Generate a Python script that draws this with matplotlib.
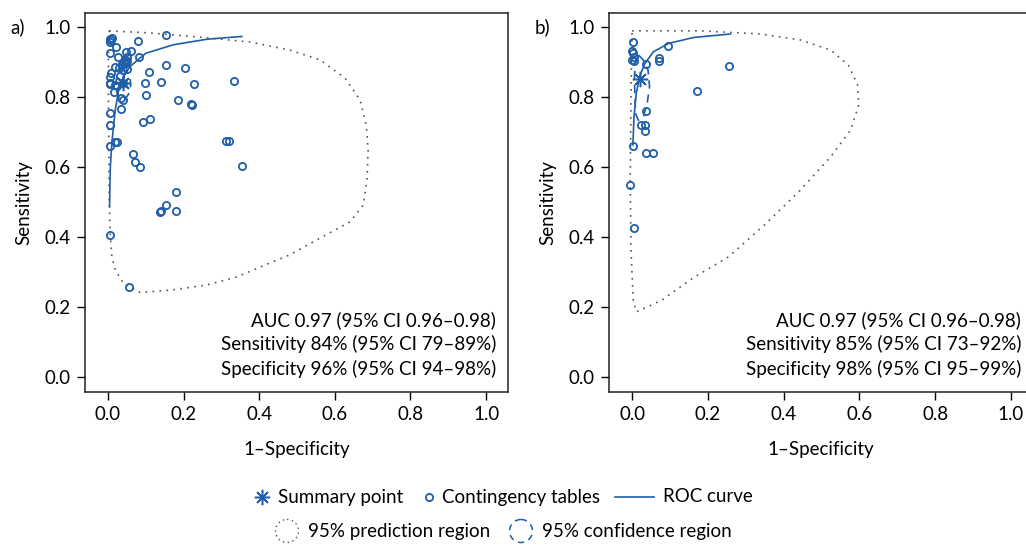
import matplotlib
matplotlib.use("Agg")
import matplotlib.pyplot as plt
from matplotlib.patches import Circle

plt.rcParams['font.family'] = ['Lato', 'DejaVu Sans']

BLUE = '#1f5ea8'
GRAY = '#555555'

# ---------------- Panel a data ----------------
a_fpr = [0.005, 0.008, 0.006, 0.010, 0.154, 0.078, 0.021, 0.005, 0.027,
         0.048, 0.060, 0.049, 0.045, 0.041, 0.051, 0.048, 0.082, 0.036,
         0.019, 0.007, 0.005, 0.030, 0.039, 0.049, 0.109, 0.154, 0.204,
         0.005, 0.004, 0.019, 0.023, 0.017, 0.032, 0.039, 0.099, 0.139,
         0.228, 0.332, 0.034, 0.039, 0.100, 0.186, 0.220, 0.221, 0.034,
         0.005, 0.092, 0.111, 0.005, 0.311, 0.320, 0.004, 0.019, 0.023,
         0.065, 0.071, 0.085, 0.354, 0.179, 0.153, 0.138, 0.140, 0.181,
         0.004, 0.056]
a_sens = [0.966, 0.962, 0.956, 0.968, 0.976, 0.960, 0.944, 0.925, 0.915,
          0.928, 0.930, 0.915, 0.907, 0.901, 0.904, 0.896, 0.915, 0.894,
          0.885, 0.869, 0.856, 0.882, 0.877, 0.879, 0.870, 0.891, 0.884,
          0.841, 0.836, 0.834, 0.830, 0.815, 0.860, 0.839, 0.841, 0.844,
          0.837, 0.847, 0.798, 0.791, 0.805, 0.791, 0.779, 0.777, 0.765,
          0.753, 0.729, 0.737, 0.720, 0.675, 0.675, 0.661, 0.672, 0.670,
          0.636, 0.614, 0.599, 0.603, 0.529, 0.490, 0.472, 0.475, 0.473,
          0.406, 0.258]
a_summary = (0.04, 0.84)
a_roc_fpr = [0.004, 0.005, 0.006, 0.010, 0.019, 0.028, 0.041, 0.058, 0.100, 0.172, 0.261, 0.354]
a_roc_sens = [0.486, 0.550, 0.600, 0.669, 0.763, 0.820, 0.858, 0.887, 0.925, 0.949, 0.965, 0.973]
a_conf_fpr = [0.036, 0.050, 0.058, 0.060, 0.055, 0.045, 0.035, 0.027, 0.022, 0.021, 0.025, 0.036]
a_conf_sens = [0.880, 0.873, 0.855, 0.835, 0.810, 0.793, 0.790, 0.800, 0.820, 0.845, 0.866, 0.880]
a_pred_fpr = [0.003, 0.111, 0.243, 0.376, 0.481, 0.561, 0.627, 0.667, 0.683, 0.688, 0.685,
              0.675, 0.640, 0.561, 0.481, 0.429, 0.341, 0.262, 0.172, 0.085, 0.040, 0.019,
              0.010, 0.005, 0.003, 0.001, 0.001, 0.003]
a_pred_sens = [0.989, 0.983, 0.971, 0.957, 0.934, 0.906, 0.854, 0.791, 0.720, 0.649, 0.563,
               0.491, 0.443, 0.397, 0.349, 0.326, 0.286, 0.263, 0.249, 0.241, 0.269, 0.306,
               0.343, 0.420, 0.514, 0.791, 0.963, 0.989]
a_text = ["AUC 0.97 (95% CI 0.96\u20130.98)",
          "Sensitivity 84% (95% CI 79\u201389%)",
          "Specificity 96% (95% CI 94\u201398%)"]

# ---------------- Panel b data ----------------
b_fpr = [0.002, -0.001, 0.002, 0.004, 0.000, 0.005, 0.036, 0.096, 0.072, 0.070,
         0.257, 0.171, 0.036, 0.023, 0.033, 0.035, 0.002, 0.037, 0.054, -0.005, 0.005]
b_sens = [0.958, 0.932, 0.927, 0.915, 0.906, 0.904, 0.893, 0.946, 0.910, 0.903,
          0.889, 0.817, 0.761, 0.720, 0.720, 0.703, 0.661, 0.641, 0.641, 0.549, 0.427]
b_summary = (0.02, 0.85)
b_roc_fpr = [0.002, 0.005, 0.011, 0.021, 0.034, 0.056, 0.096, 0.162, 0.259]
b_roc_sens = [0.663, 0.744, 0.811, 0.863, 0.896, 0.929, 0.953, 0.970, 0.980]
b_conf_fpr = [0.017, 0.030, 0.042, 0.046, 0.040, 0.030, 0.017, 0.010, 0.008, 0.006, 0.008, 0.017]
b_conf_sens = [0.920, 0.905, 0.877, 0.830, 0.783, 0.745, 0.733, 0.750, 0.783, 0.850, 0.895, 0.920]
b_pred_fpr = [0.000, 0.180, 0.339, 0.444, 0.524, 0.571, 0.595, 0.598, 0.577, 0.524, 0.444,
              0.352, 0.254, 0.161, 0.079, 0.034, 0.011, 0.003, -0.003, -0.005, -0.003, -0.001, 0.000]
b_pred_sens = [0.989, 0.989, 0.980, 0.963, 0.934, 0.891, 0.834, 0.777, 0.706, 0.629, 0.534,
               0.437, 0.343, 0.283, 0.220, 0.197, 0.186, 0.220, 0.363, 0.563, 0.791, 0.949, 0.989]
b_text = ["AUC 0.97 (95% CI 0.96\u20130.98)",
          "Sensitivity 85% (95% CI 73\u201392%)",
          "Specificity 98% (95% CI 95\u201399%)"]

ticks = [0.0, 0.2, 0.4, 0.6, 0.8, 1.0]
tick_labels = ["0.0", "0.2", "0.4", "0.6", "0.8", "1.0"]

legend_row1 = ["Summary point", "Contingency tables", "ROC curve"]
legend_row2 = ["95% prediction region", "95% confidence region"]

W, H = 1026, 545
fig = plt.figure(figsize=(W / 100, H / 100), dpi=100)

def px_axes(l, t, r, b):
    return fig.add_axes([l / W, 1 - b / H, (r - l) / W, (b - t) / H])

ax_a = px_axes(85, 13, 508, 392)
ax_b = px_axes(609, 13, 1033, 392)

FS = 13.5
asterisk = (8, 2, 0)
MS = 5.2

def draw(ax, fpr, sens, summ, rf, rs, cf, cs, pf, ps, texts, label, lx):
    ax.plot(pf, ps, color=GRAY, lw=1.2, linestyle=(0, (1, 3.2)))
    ax.plot(rf, rs, color=BLUE, lw=1.2)
    ax.plot(cf, cs, color=BLUE, lw=1.2, linestyle=(0, (5, 3.5)))
    ax.plot(fpr, sens, linestyle='none', marker='o', ms=MS, mfc='none',
            mec=BLUE, mew=1.3)
    ax.plot([summ[0]], [summ[1]], linestyle='none', marker=asterisk, ms=11,
            mec=BLUE, mew=1.1, color=BLUE)
    ax.set_xlim(-0.061, 1.058)
    ax.set_ylim(-0.043, 1.040)
    ax.set_xticks(ticks)
    ax.set_xticklabels(tick_labels)
    ax.set_yticks(ticks)
    ax.set_yticklabels(tick_labels)
    ax.tick_params(direction='out', length=6, width=1, labelsize=FS, pad=4,
                   colors='black')
    for s in ax.spines.values():
        s.set_linewidth(1.1)
        s.set_color('#222222')
    ax.set_xlabel("1\u2013Specificity", fontsize=FS, labelpad=13)
    ax.set_ylabel("Sensitivity", fontsize=FS, labelpad=9)
    for i, t in enumerate(texts):
        ax.text(1.027, 0.163 - i * 0.07, t, ha='right', va='center', fontsize=FS)
    fig.text(lx / W, 1 - 27 / H, label, fontsize=FS, ha='left', va='center')

draw(ax_a, a_fpr, a_sens, a_summary, a_roc_fpr, a_roc_sens, a_conf_fpr, a_conf_sens,
     a_pred_fpr, a_pred_sens, a_text, "a)", 10)
draw(ax_b, b_fpr, b_sens, b_summary, b_roc_fpr, b_roc_sens, b_conf_fpr, b_conf_sens,
     b_pred_fpr, b_pred_sens, b_text, "b)", 535)

# ---------------- Legend (drawn in a pixel-coordinate overlay) ----------------
lg = fig.add_axes([0, 0, 1, 1], zorder=-1)
lg.set_xlim(0, W)
lg.set_ylim(H, 0)
lg.axis('off')
y1, y2 = 497, 531
lg.plot([262], [y1], linestyle='none', marker=asterisk, ms=11, mec=BLUE, mew=1.1)
lg.text(278, y1, legend_row1[0], fontsize=FS, va='center', ha='left')
lg.plot([429], [y1], linestyle='none', marker='o', ms=MS, mfc='none', mec=BLUE, mew=1.3)
lg.text(442, y1, legend_row1[1], fontsize=FS, va='center', ha='left')
lg.plot([615, 654], [y1, y1], color=BLUE, lw=1.2)
lg.text(663, y1, legend_row1[2], fontsize=FS, va='center', ha='left')
lg.add_patch(Circle((287, y2), 11.5, facecolor='none', edgecolor=GRAY,
                    linestyle=(0, (1, 2.5)), linewidth=1.0))
lg.text(308, y2, legend_row2[0], fontsize=FS, va='center', ha='left')
lg.add_patch(Circle((521, y2), 11.5, facecolor='none', edgecolor=BLUE,
                    linestyle=(0, (4, 3.2)), linewidth=1.1))
lg.text(542, y2, legend_row2[1], fontsize=FS, va='center', ha='left')

fig.savefig("out.png", dpi=100)
